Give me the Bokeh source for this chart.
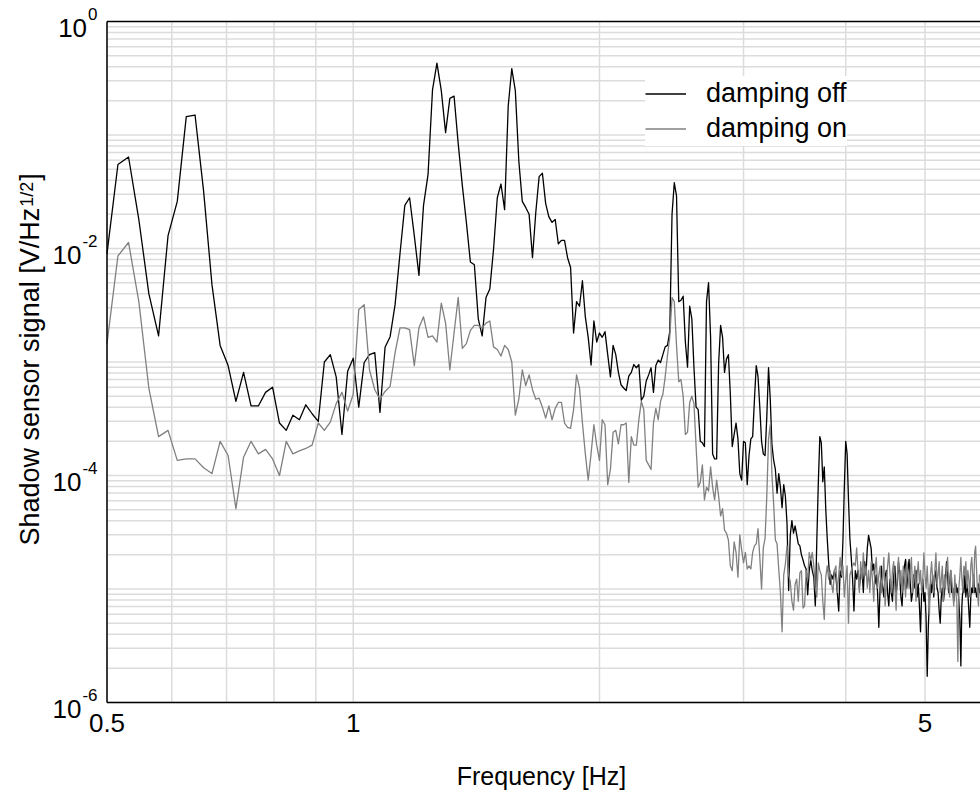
import math
from bokeh.plotting import figure
from bokeh.models import Legend, LegendItem
from bokeh.core.properties import value
from bokeh.embed import file_html
from bokeh.resources import INLINE

FONT = "Liberation Sans"

# ---------------- data ----------------
freq_start = 0.5        # Hz, first frequency bin
freq_step = 1 / 64      # Hz, bin spacing

damping_off = [
    9.0e-3, 5.5e-2, 6.4e-2, 1.8e-2, 4.0e-3, 1.7e-3, 1.3e-2, 2.6e-2, 1.45e-1, 1.5e-1,
    3.2e-2, 4.8e-3, 1.4e-3, 9.3e-4, 4.5e-4, 8.1e-4, 4.1e-4, 4.1e-4, 5.4e-4, 6.0e-4,
    2.9e-4, 2.5e-4, 3.4e-4, 3.1e-4, 4.2e-4, 3.5e-4, 3.0e-4, 1.0e-3, 1.16e-3, 7.4e-4,
    2.3e-4, 8.3e-4, 1.08e-3, 4.0e-4, 9.9e-4, 1.16e-3, 1.21e-3, 3.6e-4, 1.35e-3, 1.67e-3,
    3.2e-3, 9.0e-3, 2.4e-2, 2.8e-2, 1.3e-2, 5.8e-3, 2.4e-2, 4.5e-2, 0.25, 0.43,
    0.246, 0.105, 0.21, 0.22, 8.4e-2, 3.6e-2, 1.7e-2, 7.6e-3, 7.2e-3, 2.4e-3,
    1.7e-3, 3.7e-3, 4.4e-3, 9.9e-3, 2.8e-2, 3.7e-2, 2.2e-2, 0.18, 0.385, 0.246,
    5.9e-2, 2.6e-2, 2.3e-2, 2.0e-2, 8.3e-3, 2.1e-2, 4.3e-2, 4.6e-2, 2.5e-2, 1.9e-2,
    1.7e-2, 1.8e-2, 1.1e-2, 1.18e-2, 1.18e-2, 8.3e-3, 6.8e-3, 1.8e-3, 3.4e-3, 3.1e-3,
    5.2e-3, 2.5e-3, 1.65e-3, 9.4e-4, 2.3e-3, 1.5e-3, 1.8e-3, 1.65e-3, 1.85e-3, 1.16e-3,
    7.4e-4, 1.4e-3, 1.16e-3, 8.1e-4, 6.3e-4, 5.9e-4, 5.6e-4, 7.5e-4, 8.1e-4, 9.5e-4,
    8.9e-4, 9.5e-4, 4.6e-4, 5.0e-4, 6.8e-4, 7.7e-4, 8.9e-4, 5.4e-4, 9.3e-4, 1.04e-3,
    9.9e-4, 1.16e-3, 1.36e-3, 1.4e-3, 1.85e-3, 2.0e-2, 3.8e-2, 2.9e-2, 3.4e-3, 3.5e-3,
    3.8e-3, 1.5e-3, 9.0e-4, 3.1e-3, 2.4e-3, 8.9e-4, 4.0e-4, 3.8e-4, 2.0e-4, 1.94e-4,
    1.8e-4, 3.4e-3, 5.0e-3, 1.65e-3, 1.55e-4, 1.4e-4, 1.4e-4, 9.7e-4, 2.1e-3, 1.65e-3,
    8.1e-4, 1.06e-3, 1.16e-3, 5.2e-4, 1.8e-4, 2.3e-4, 2.9e-4, 2.1e-4, 1.04e-4, 9.1e-5,
    2.0e-4, 1.94e-4, 8.3e-5, 1.5e-4, 2.1e-4, 2.2e-4, 4.7e-4, 9.3e-4, 7.4e-4, 4.0e-4,
    2.0e-4, 1.55e-4, 1.5e-4, 3.3e-4, 8.9e-4, 4.7e-4, 1.85e-4, 1.36e-4, 1.13e-4, 7.0e-5,
    1.04e-4, 7.9e-5, 5.2e-5, 8.3e-5, 6.6e-5, 3.8e-5, 9.7e-6, 3.0e-5, 4.0e-5, 3.1e-5,
    3.6e-5, 3.0e-5, 2.5e-5, 2.4e-5, 2.0e-5, 1.8e-5, 1.6e-5, 1.5e-5, 8.9e-6, 1.45e-5,
    1.8e-5, 1.45e-5, 1.27e-5, 7.1e-6, 2.7e-5, 8.7e-5, 2.2e-4, 1.94e-4, 8.8e-5, 1.19e-4,
    5.1e-5, 2.8e-5, 1.7e-5, 1.1e-5, 1.33e-5, 1.22e-5, 1.45e-5, 1.27e-5, 9.3e-6, 6.4e-6,
    1.45e-5, 1.27e-5, 2.7e-5, 7.9e-5, 2.0e-4, 1.55e-4, 6.1e-5, 2.8e-5, 1.9e-5, 1.22e-5,
    6.4e-6, 1.45e-5, 1.22e-5, 1.46e-5, 1.02e-5, 1.33e-5, 1.52e-5, 9.3e-6, 1.74e-5, 1.33e-5,
    2.27e-5, 2.97e-5, 2.6e-5, 2.27e-5, 1.46e-5, 1.66e-5, 1.11e-5, 1.33e-5, 9.3e-6, 4.6e-6,
    1.02e-5, 1.59e-5, 1.06e-5, 8.5e-6, 1.27e-5, 1.46e-5, 9.3e-6, 7.1e-6, 1.22e-5, 9.3e-6,
    7.8e-6, 1.33e-5, 1.59e-5, 9.3e-6, 1.11e-5, 1.74e-5, 1.33e-5, 8.5e-6, 7.1e-6, 1.22e-5,
    1.59e-5, 1.82e-5, 1.02e-5, 1.46e-5, 1.82e-5, 1.11e-5, 7.8e-6, 9.3e-6, 1.33e-5, 1.02e-5,
    1.46e-5, 8.5e-6, 1.11e-5, 7.1e-6, 4.2e-6, 9.3e-6, 1.22e-5, 7.8e-6, 9.3e-6, 5.4e-6,
    1.7e-6, 4.6e-6, 7.8e-6, 1.11e-5, 9.3e-6, 1.33e-5, 8.5e-6, 1.27e-5, 1.46e-5, 1.02e-5,
    9.3e-6, 6.5e-6, 5.0e-6, 8.5e-6, 1.02e-5, 7.8e-6, 9.3e-6, 1.22e-5, 1.74e-5, 1.33e-5,
    9.3e-6, 1.11e-5, 1.46e-5, 9.3e-6, 1.02e-5, 7.8e-6, 1.02e-5, 1.11e-5, 9.3e-6, 1.02e-5,
    7.8e-6, 5.4e-6, 2.1e-6, 7.1e-6, 1.02e-5, 9.3e-6, 1.33e-5, 8.5e-6, 1.11e-5, 9.3e-6,
    6.5e-6, 4.6e-6, 8.5e-6, 1.02e-5, 9.3e-6, 1.33e-5, 9.3e-6, 1.02e-5, 8.5e-6, 9.3e-6,
    1.11e-5, 9.3e-6, 1.02e-5,
]

damping_on = [
    1.45e-3, 8.6e-3, 1.13e-2, 3.4e-3, 5.9e-4, 2.2e-4, 2.5e-4, 1.36e-4, 1.4e-4, 1.4e-4,
    1.17e-4, 1.04e-4, 2.0e-4, 1.5e-4, 5.1e-5, 1.45e-4, 2.0e-4, 1.55e-4, 1.7e-4, 1.4e-4,
    1.0e-4, 2.0e-4, 1.55e-4, 1.65e-4, 1.73e-4, 1.85e-4, 2.9e-4, 2.5e-4, 2.95e-4, 4.3e-4,
    5.4e-4, 3.7e-4, 5.2e-4, 2.9e-3, 3.2e-3, 8.5e-4, 5.7e-4, 4.7e-4, 5.5e-4, 6.1e-4,
    1.21e-3, 2.0e-3, 2.0e-3, 1.93e-3, 9.3e-4, 2.0e-3, 2.5e-3, 1.65e-3, 1.7e-3, 1.5e-3,
    3.3e-3, 2.2e-3, 8.5e-4, 1.8e-3, 3.7e-3, 1.32e-3, 1.45e-3, 1.9e-3, 2.1e-3, 2.1e-3,
    2.0e-3, 2.2e-3, 2.3e-3, 1.36e-3, 1.29e-3, 1.13e-3, 1.4e-3, 1.29e-3, 1.0e-3, 3.4e-4,
    4.7e-4, 8.5e-4, 6.2e-4, 7.7e-4, 5.7e-4, 4.7e-4, 4.8e-4, 4.0e-4, 3.2e-4, 4.1e-4,
    3.1e-4, 3.9e-4, 4.4e-4, 4.4e-4, 2.9e-4, 2.65e-4, 2.6e-4, 3.8e-4, 7.7e-4, 5.9e-4,
    2.9e-4, 1.55e-4, 9.1e-5, 1.55e-4, 2.8e-4, 1.85e-4, 1.36e-4, 3.1e-4, 2.8e-4, 8.3e-5,
    1.13e-4, 2.4e-4, 2.5e-4, 1.9e-4, 2.8e-4, 2.8e-4, 2.9e-4, 8.7e-5, 2.2e-4, 1.85e-4,
    1.85e-4, 3.1e-4, 4.5e-4, 3.8e-4, 1.36e-4, 1.24e-4, 1.13e-4, 2.9e-4, 3.9e-4, 3.1e-4,
    4.5e-4, 5.2e-4, 7.4e-4, 1.14e-3, 1.65e-3, 3.7e-3, 3.4e-3, 1.4e-3, 6.7e-4, 7.0e-4,
    5.0e-4, 2.3e-4, 2.4e-4, 4.4e-4, 5.0e-4, 4.3e-4, 1.8e-4, 7.9e-5, 8.7e-5, 1.24e-4,
    6.1e-5, 7.9e-5, 7.3e-5, 1.19e-4, 7.9e-5, 6.1e-5, 9.1e-5, 6.6e-5, 4.4e-5, 5.1e-5,
    3.3e-5, 3.1e-5, 2.7e-5, 1.6e-5, 1.45e-5, 2.6e-5, 2.1e-5, 1.27e-5, 3.0e-5, 2.2e-5,
    1.7e-5, 2.1e-5, 1.5e-5, 1.6e-5, 1.5e-5, 2.1e-5, 2.4e-5, 2.5e-5, 3.4e-5, 1.9e-5,
    1.0e-5, 2.3e-5, 2.8e-5, 6.6e-5, 2.1e-4, 2.8e-4, 1.0e-4, 5.6e-5, 2.7e-5, 2.5e-5,
    1.5e-5, 9.3e-6, 4.2e-6, 1.33e-5, 1.66e-5, 2.4e-5, 1.33e-5, 1.16e-5, 7.8e-6, 6.5e-6,
    1.1e-5, 1.22e-5, 7.8e-6, 1.39e-5, 1.45e-5, 6.8e-6, 7.1e-6, 1.45e-5, 1.22e-5, 2.1e-5,
    1.8e-5, 2.1e-5, 1.6e-5, 1.0e-5, 8.5e-6, 1.7e-5, 1.45e-5, 1.33e-5, 7.8e-6, 5.4e-6,
    1.27e-5, 1.6e-5, 1.22e-5, 1.45e-5, 1.1e-5, 9.3e-6, 1.45e-5, 1.6e-5, 9.3e-6, 1.33e-5,
    1.9e-5, 1.33e-5, 1.6e-5, 8.5e-6, 1.22e-5, 1.6e-5, 5.0e-6, 1.33e-5, 1.45e-5, 1.6e-5,
    1.7e-5, 1.6e-5, 2.3e-5, 1.46e-5, 9.3e-6, 1.74e-5, 1.22e-5, 2.08e-5, 1.33e-5, 1.59e-5,
    1.02e-5, 1.46e-5, 9.3e-6, 1.74e-5, 1.22e-5, 7.8e-6, 1.46e-5, 1.9e-5, 1.02e-5, 1.33e-5,
    1.59e-5, 9.3e-6, 1.22e-5, 1.9e-5, 7.1e-6, 1.11e-5, 1.59e-5, 2.08e-5, 1.33e-5, 9.3e-6,
    1.46e-5, 1.74e-5, 1.02e-5, 6.5e-6, 1.33e-5, 1.9e-5, 1.11e-5, 1.46e-5, 9.3e-6, 1.59e-5,
    1.22e-5, 8.5e-6, 1.74e-5, 1.33e-5, 1.02e-5, 1.46e-5, 1.9e-5, 9.3e-6, 1.22e-5, 1.59e-5,
    7.8e-6, 1.33e-5, 1.74e-5, 1.11e-5, 1.46e-5, 9.3e-6, 1.22e-5, 2.08e-5, 1.33e-5, 1.02e-5,
    1.59e-5, 9.3e-6, 6.0e-6, 1.33e-5, 1.74e-5, 1.22e-5, 9.3e-6, 1.46e-5, 2.08e-5, 1.11e-5,
    1.33e-5, 1.74e-5, 9.3e-6, 1.22e-5, 1.59e-5, 7.8e-6, 1.33e-5, 1.02e-5, 1.46e-5, 1.9e-5,
    1.11e-5, 8.5e-6, 1.46e-5, 1.22e-5, 9.3e-6, 7.1e-6, 1.33e-5, 9.3e-6, 7.8e-6, 2.3e-6,
    1.02e-5, 1.33e-5, 1.9e-5, 1.22e-5, 9.3e-6, 1.59e-5, 1.33e-5, 1.74e-5, 1.02e-5, 1.46e-5,
    1.22e-5, 8.5e-6, 1.59e-5, 1.9e-5, 1.33e-5, 9.3e-6, 2.08e-5, 2.38e-5, 1.46e-5, 9.3e-6,
    7.1e-6, 1.33e-5, 1.22e-5,
]

freq = [freq_start + i * freq_step for i in range(len(damping_off))]

series_names = ["damping off", "damping on"]
x_ticks = [0.5, 1, 5]
x_tick_labels = ["0.5", "1", "5"]
x_minor_ticks = [0.6, 0.7, 0.8, 0.9, 2, 3, 4]
y_tick_exponents = [0, -2, -4, -6]
y_decades = [-6, -5, -4, -3, -2, -1]
x_label = "Frequency [Hz]"
y_label_main = "Shadow sensor signal [V/Hz"
y_label_sup = "1/2"
y_label_end = "]"

# ---------------- layout (pixels) ----------------
W, H = 980, 796
X_MIN = 0.5                      # axis start; the axis runs off the right edge
Y_MIN, Y_MAX = 1e-6, 1.0
PX_LEFT, PX_PER_DEC_X = 106.5, 818.0
PX_TOP, PX_PER_DEC_Y = 21.0, 113.5


def X(px):
    return X_MIN * 10 ** ((px - PX_LEFT) / PX_PER_DEC_X)


def Y(py):
    return Y_MAX * 10 ** (-(py - PX_TOP) / PX_PER_DEC_Y)


X_END = X(W)

# Arial / Liberation Sans advance widths (1/1000 em)
ADV = {' ': 278, 'S': 667, 'h': 556, 'a': 556, 'd': 556, 'o': 556, 'w': 722,
       's': 500, 'e': 556, 'n': 556, 'r': 333, 'i': 222, 'g': 556, 'l': 222,
       '[': 278, ']': 278, 'V': 667, '/': 278, 'H': 722, 'z': 500, '-': 333,
       '0': 556, '1': 556, '2': 556, '4': 556, '6': 556}
CAP_MID = 0.358  # cap-height centre above baseline, in em


def tw(s, size):
    return sum(ADV.get(c, 556) for c in s) * size / 1000.0


p = figure(width=W, height=H, x_axis_type="log", y_axis_type="log",
           x_range=(X(0), X(W)), y_range=(Y(H), Y(0)),
           output_backend="svg", toolbar_location=None, title=None,
           min_border=0, min_border_left=0, min_border_right=0,
           min_border_top=0, min_border_bottom=0)
p.xaxis.visible = False
p.yaxis.visible = False
p.xgrid.visible = False
p.ygrid.visible = False
p.outline_line_color = None
p.background_fill_color = "white"
p.border_fill_color = "white"

GRID = "#dcdcdc"
vx = x_ticks + x_minor_ticks
p.segment(x0=vx, y0=[Y_MIN] * len(vx), x1=vx, y1=[Y_MAX] * len(vx),
          line_color=GRID, line_width=1.5)
hy = [m * 10.0 ** d for d in y_decades for m in range(1, 10)]
p.segment(x0=[X_MIN] * len(hy), y0=hy, x1=[X_END] * len(hy), y1=hy,
          line_color=GRID, line_width=1.5)

# data
r_off = p.line(freq, damping_off, line_color="black", line_width=1.3, line_join="round")
r_on = p.line(freq, damping_on, line_color="#808080", line_width=1.3, line_join="round")

# frame borders (top, left, bottom)
p.segment(x0=[X_MIN, X_MIN, X_MIN], y0=[Y_MAX, Y_MIN, Y_MIN],
          x1=[X_END, X_MIN, X_END], y1=[Y_MAX, Y_MAX, Y_MIN],
          line_color="black", line_width=1.5)

txt = dict(text_baseline="middle", text_font=value(FONT), text_color="black")

# x tick labels
p.text(x=x_ticks, y=[Y(722)] * len(x_ticks), text=x_tick_labels,
       text_align="center", text_font_size=value("26px"), **txt)

# x axis label
p.text(x=[X(541)], y=[Y(775)], text=[x_label], text_align="center",
       text_font_size=value("25px"), **txt)

# y tick labels: "10" with superscript exponent
exp_txt = [str(e) for e in y_tick_exponents]
tick_py = [PX_TOP - e * PX_PER_DEC_Y for e in y_tick_exponents]
p.text(x=[X(97)] * len(exp_txt), y=[Y(py - 1 - CAP_MID * 17) for py in tick_py],
       text=exp_txt, text_align="right", text_font_size=value("17px"), **txt)
p.text(x=[X(96 - tw(t, 17)) for t in exp_txt],
       y=[Y(py + 15.5 - CAP_MID * 26) for py in tick_py],
       text=["10"] * len(exp_txt), text_align="right",
       text_font_size=value("26px"), **txt)

# rotated y axis label with superscript
YL_SIZE, YL_SUP = 27, 18
y_start_px = 545.0
base_x = 39.3
sup_base_x = 33.3
w1 = tw(y_label_main, YL_SIZE)
w2 = tw(y_label_sup, YL_SUP)
p.text(x=[X(base_x - CAP_MID * YL_SIZE)], y=[Y(y_start_px)], text=[y_label_main],
       angle=math.pi / 2, text_align="left", text_font_size=value(f"{YL_SIZE}px"), **txt)
p.text(x=[X(sup_base_x - CAP_MID * YL_SUP)], y=[Y(y_start_px - w1 - 1)],
       text=[y_label_sup], angle=math.pi / 2, text_align="left",
       text_font_size=value(f"{YL_SUP}px"), **txt)
p.text(x=[X(base_x - CAP_MID * YL_SIZE)], y=[Y(y_start_px - w1 - w2 - 2)],
       text=[y_label_end], angle=math.pi / 2, text_align="left",
       text_font_size=value(f"{YL_SIZE}px"), **txt)

legend = Legend(items=[LegendItem(label=series_names[0], renderers=[r_off]),
                       LegendItem(label=series_names[1], renderers=[r_on])],
                location=(645, 650), orientation="vertical",
                label_text_font=FONT, label_text_font_size="27px",
                label_text_color="black",
                glyph_width=41, glyph_height=35, label_height=35,
                label_standoff=20, padding=8, spacing=0, margin=0,
                border_line_color=None, background_fill_color="white",
                background_fill_alpha=1.0)
p.add_layout(legend)

open("out.html", "w").write(file_html(p, INLINE))
